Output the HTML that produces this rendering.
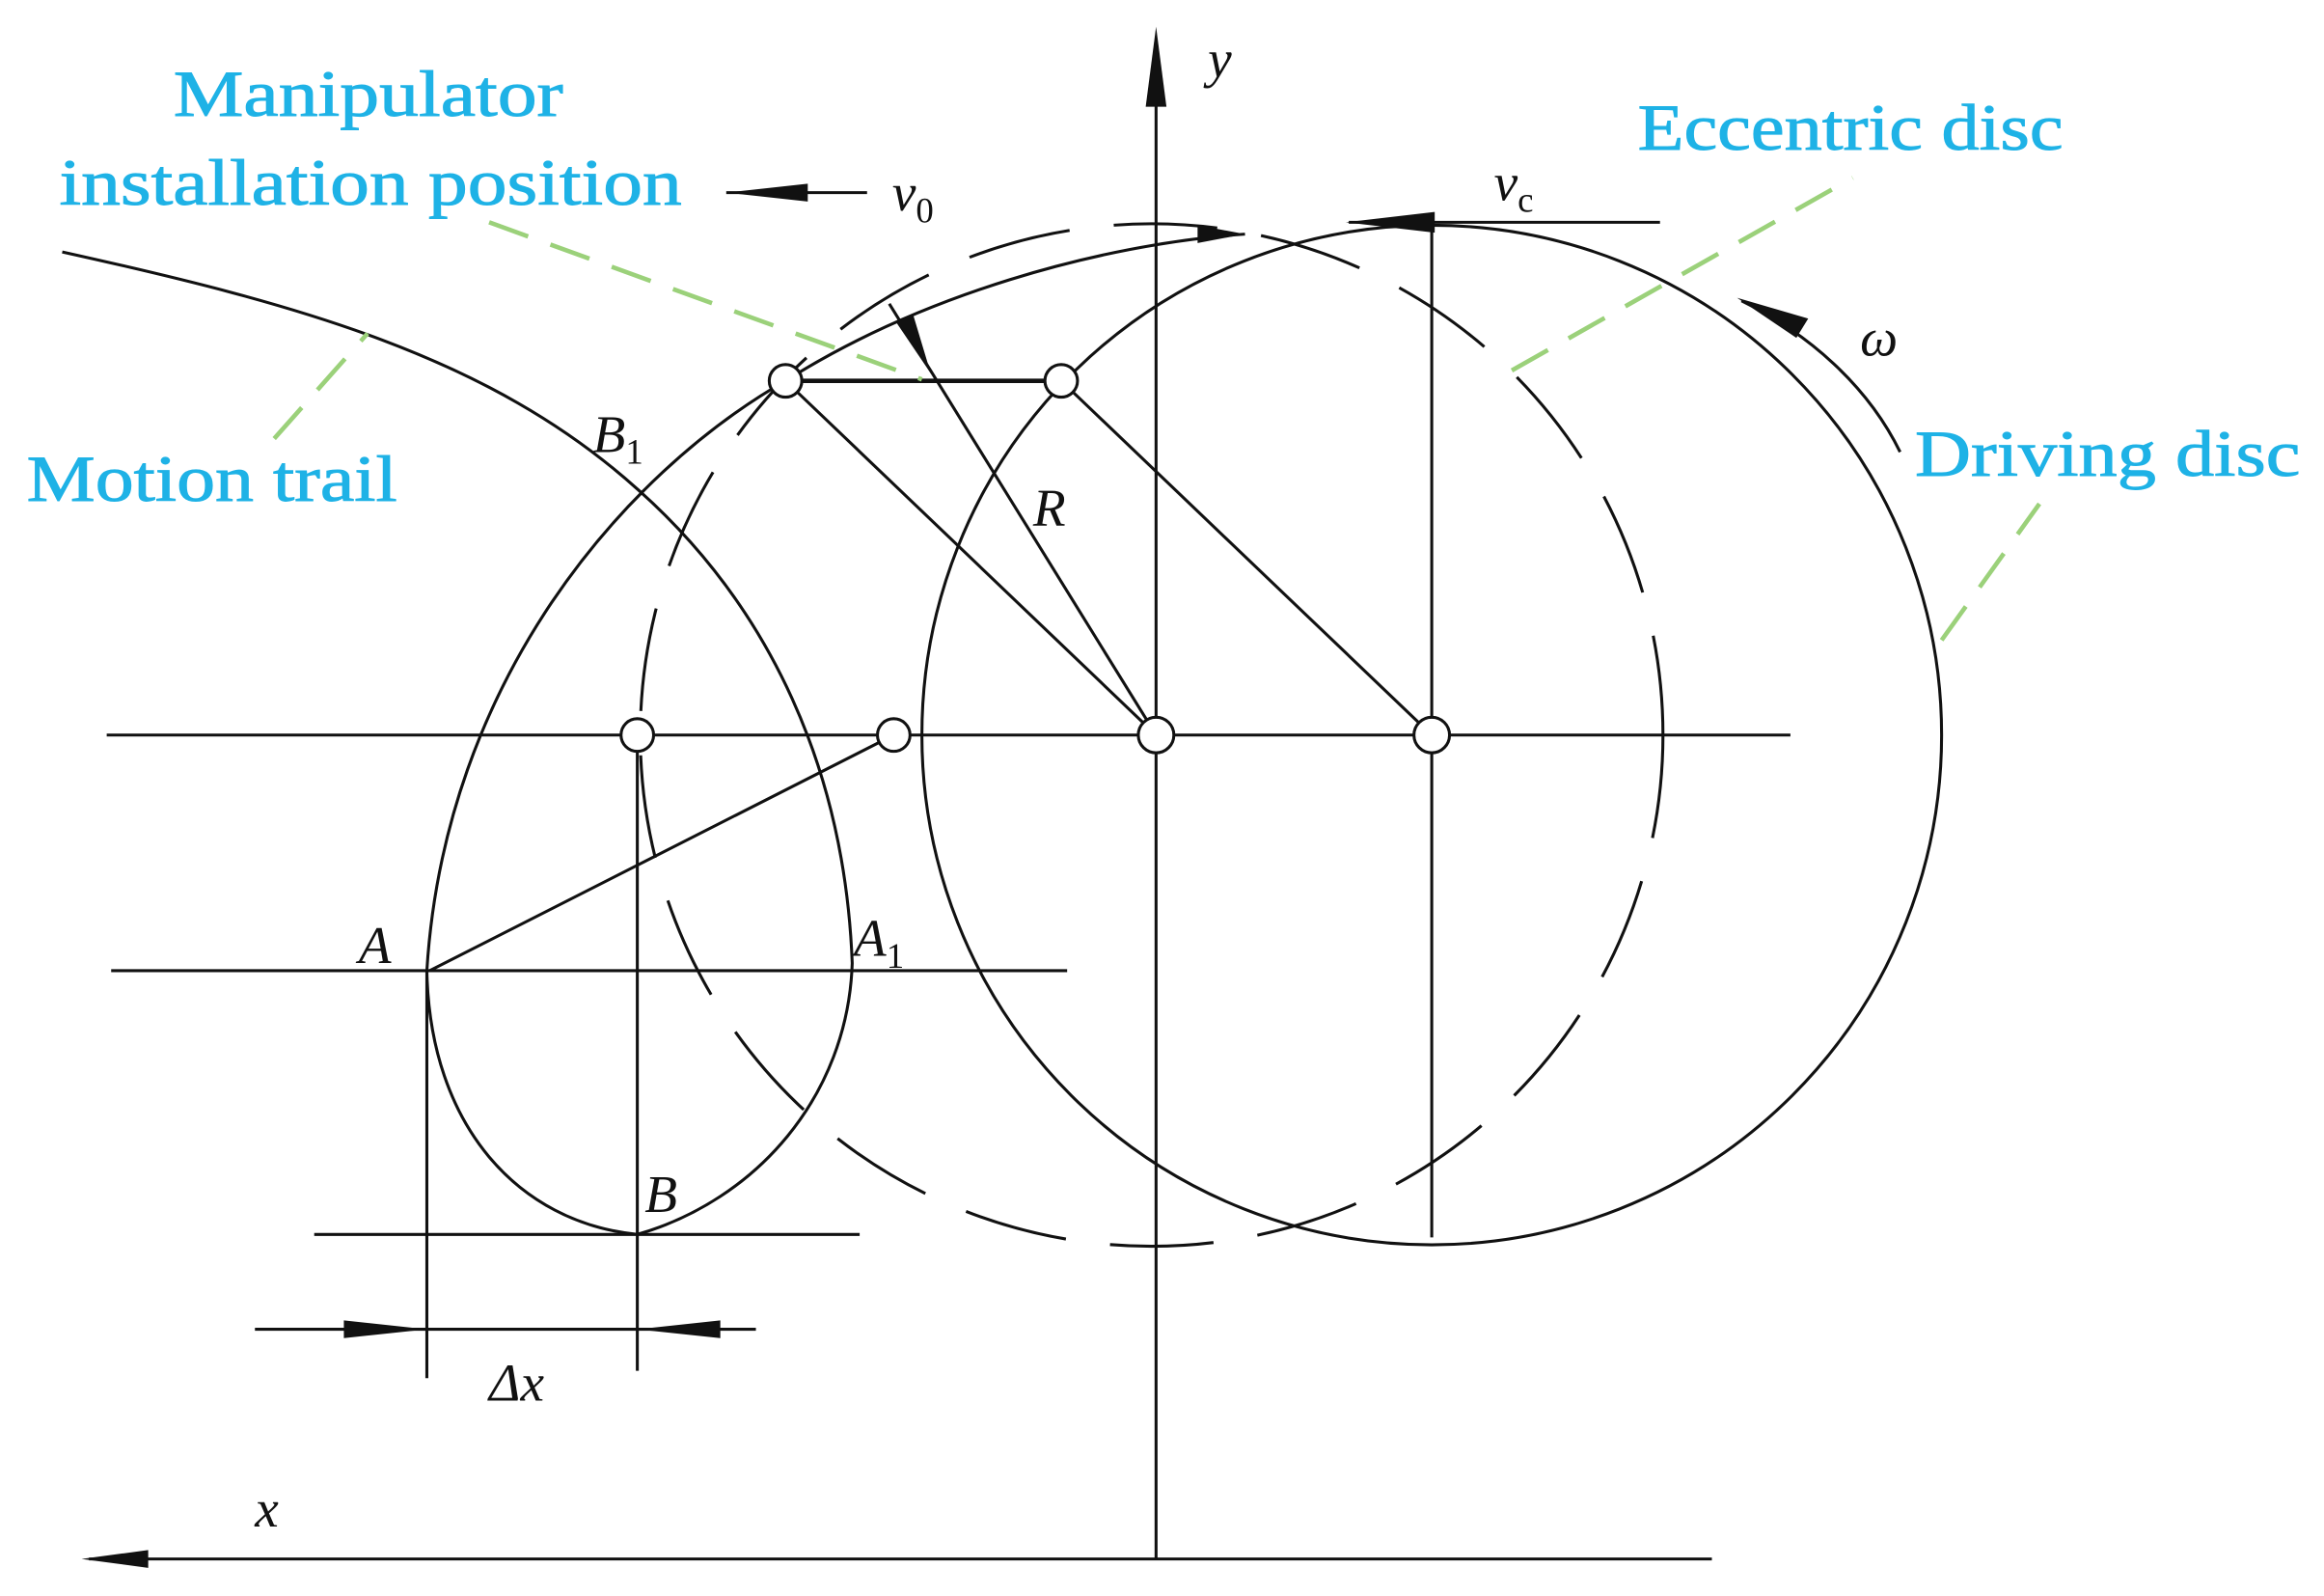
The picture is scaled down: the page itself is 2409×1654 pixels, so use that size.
<!DOCTYPE html>
<html><head><meta charset="utf-8"><style>
html,body{margin:0;padding:0;background:#fff;}
svg{display:block;}
.l{font-family:"Liberation Serif",serif;font-size:44px;fill:#1eb2e6;stroke:#1eb2e6;stroke-width:0.6;}
.i{font-family:"Liberation Serif",serif;font-style:italic;font-size:36px;fill:#111;}
</style></head><body>
<svg width="2409" height="1654" viewBox="0 0 1568 1077" preserveAspectRatio="none" xmlns="http://www.w3.org/2000/svg">
<g stroke="#111" stroke-width="2" fill="none">
<line x1="780" y1="30" x2="780" y2="1052"/>
<line x1="60" y1="1052" x2="1155" y2="1052"/>
<line x1="72" y1="496" x2="1208" y2="496"/>
<circle cx="966" cy="496" r="344"/>
<circle cx="777" cy="496" r="345" stroke-dasharray="70,30"/>
<path d="M42,170 C200,205 330,240 430,330 C520,410 570,520 575,650 C572,740 510,810 430,833"/>
<path d="M530,257 C420,320 300,460 288,655 C290,760 350,825 430,833"/>
<line x1="290" y1="655" x2="603" y2="496"/>
<line x1="530" y1="257" x2="780" y2="496"/>
<line x1="716" y1="257" x2="966" y2="496"/>
<line x1="530" y1="257" x2="716" y2="257" stroke-width="3"/>
<line x1="600" y1="205" x2="780" y2="496"/>
<line x1="75" y1="655" x2="720" y2="655"/>
<line x1="212" y1="833" x2="580" y2="833"/>
<line x1="172" y1="897" x2="510" y2="897"/>
<line x1="288" y1="655" x2="288" y2="930"/>
<line x1="430" y1="496" x2="430" y2="925"/>
<line x1="966" y1="150" x2="966" y2="835"/>
<path d="M530,257 C620,200 740,165 840,158"/>
<line x1="910" y1="150" x2="1120" y2="150"/>
<line x1="490" y1="130" x2="585" y2="130"/>
<path d="M1175,203 C1220,225 1260,260 1282,305"/>
</g>
<g fill="#fff" stroke="#111" stroke-width="2">
<circle cx="430" cy="496" r="11"/><circle cx="603" cy="496" r="11"/>
<circle cx="780" cy="496" r="12"/><circle cx="966" cy="496" r="12"/>
<circle cx="530" cy="257" r="11"/><circle cx="716" cy="257" r="11"/>
</g>
<g fill="#111">
<polygon points="780,18 773,72 787,72"/>
<polygon points="55,1052 100,1046 100,1058"/>
<polygon points="490,130 545,124 545,136"/>
<polygon points="908,150 968,143 968,157"/>
<polygon points="840,158 808,152 808,164"/>
<polygon points="1172,201 1220,215 1212,228"/>
<polygon points="288,897 232,891 232,903"/>
<polygon points="430,897 486,891 486,903"/>
<polygon points="628,252 605,218 616,212"/>
</g>
<g stroke="#9bd17a" stroke-width="3" stroke-dasharray="28,16" fill="none">
<line x1="330" y1="150" x2="622" y2="256"/>
<line x1="185" y1="296" x2="248" y2="225"/>
<line x1="1020" y1="250" x2="1250" y2="120"/>
<line x1="1310" y1="432" x2="1376" y2="340"/>
</g>
<text class="l" x="117" y="78" textLength="263" lengthAdjust="spacingAndGlyphs">Manipulator</text>
<text class="l" x="40" y="138" textLength="420" lengthAdjust="spacingAndGlyphs">installation position</text>
<text class="l" x="18" y="338" textLength="250" lengthAdjust="spacingAndGlyphs">Motion trail</text>
<text class="l" x="1105" y="101" textLength="287" lengthAdjust="spacingAndGlyphs">Eccentric disc</text>
<text class="l" x="1292" y="321" textLength="260" lengthAdjust="spacingAndGlyphs">Driving disc</text>
<text class="i" x="815" y="52">y</text>
<text class="i" x="602" y="142">v<tspan font-size="24" font-style="normal" dy="8">0</tspan></text>
<text class="i" x="1008" y="135">v<tspan font-size="24" font-style="normal" dy="8">c</tspan></text>
<text class="i" x="1255" y="240">ω</text>
<text class="i" x="400" y="305">B<tspan font-size="24" font-style="normal" dy="8">1</tspan></text>
<text class="i" x="697" y="355">R</text>
<text class="i" x="242" y="650">A</text>
<text class="i" x="576" y="645">A<tspan font-size="24" font-style="normal" dy="8">1</tspan></text>
<text class="i" x="435" y="818">B</text>
<text class="i" x="330" y="945">Δx</text>
<text class="i" x="172" y="1030">x</text>
</svg>
</body></html>
